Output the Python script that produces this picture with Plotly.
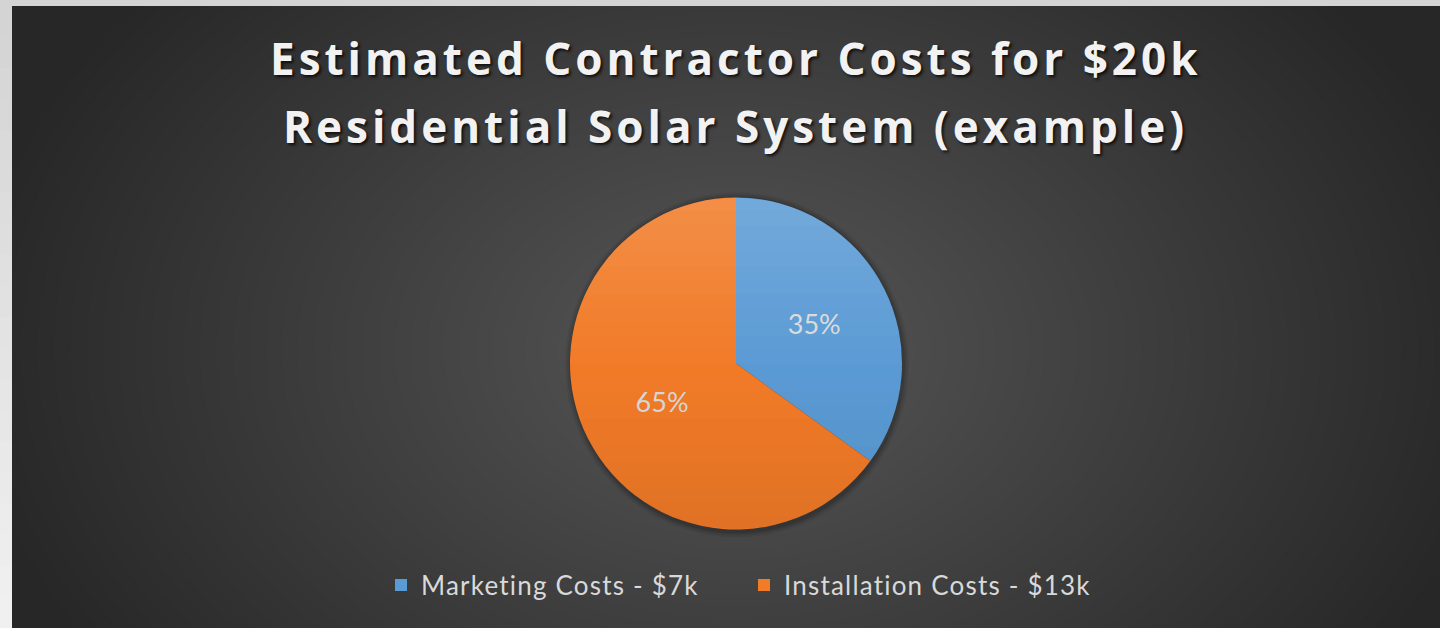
import numpy as np
import plotly.graph_objects as go

# ---- data ----
categories = ["Marketing Costs - $7k", "Installation Costs - $13k"]
values = [7, 13]
colors = ["#5b9bd5", "#f27b28"]
title_lines = ["Estimated Contractor Costs for $20k", "Residential Solar System (example)"]

W, H = 1440, 628
def X(px): return px / W
def Y(py): return 1 - py / H

# pie geometry (pixels)
CX, CY, R = 736, 363.5, 166

shapes = []
# panel base
shapes.append(dict(type="rect", xref="paper", yref="paper", x0=X(12), x1=X(1440), y0=Y(628), y1=Y(6),
                   fillcolor="#272727", line_width=0, layer="below"))
# radial gradient via concentric ellipses
gcx, gcy, rx, ry = 736, 350, 780, 560
N = 48
for i in range(N):
    d = 1 - i / N
    c = int(round(0x57 - (0x57 - 0x27) * d))
    shapes.append(dict(type="circle", xref="paper", yref="paper",
                       x0=X(gcx - rx * d), x1=X(gcx + rx * d), y0=Y(gcy + ry * d), y1=Y(gcy - ry * d),
                       fillcolor=f"rgb({c},{c},{c})", line_width=0, layer="below"))
# light outer frame (drawn over gradient)
shapes.append(dict(type="rect", xref="paper", yref="paper", x0=0, x1=1, y0=Y(6), y1=1,
                   fillcolor="#d4d4d4", line_width=0, layer="below"))
nb = 20
for i in range(nb):
    y0p = 6 + (H - 6) * i / nb
    c = int(round(0xd4 + (0xf0 - 0xd4) * (i / (nb - 1))))
    shapes.append(dict(type="rect", xref="paper", yref="paper", x0=0, x1=X(12), y0=0, y1=Y(y0p),
                       fillcolor=f"rgb({c},{c},{c})", line_width=0, layer="below"))
# pie soft shadow
for k, a in [(6, 0.06), (4, 0.08), (2, 0.12)]:
    shapes.append(dict(type="circle", xref="paper", yref="paper",
                       x0=X(CX - R - k + 1), x1=X(CX + R + k + 1), y0=Y(CY + R + k + 2), y1=Y(CY - R - k + 1),
                       fillcolor=f"rgba(0,0,0,{a})", line_width=0, layer="below"))
# vertical shading overlay on the pie (light top, dark bottom)
NB = 24
for i in range(NB):
    y1p = CY - R + 2 * R * i / NB
    y2p = CY - R + 2 * R * (i + 1) / NB
    t = (i + 0.5) / NB
    ys = np.linspace(y1p, y2p, 6)
    xs = np.sqrt(np.maximum(R ** 2 - (ys - CY) ** 2, 0))
    pts = [(CX + x, y) for x, y in zip(xs, ys)] + [(CX - x, y) for x, y in zip(xs[::-1], ys[::-1])]
    path = "M" + " L".join(f"{X(px):.6f},{Y(py):.6f}" for px, py in pts) + " Z"
    if t < 0.5:
        col = f"rgba(255,255,255,{(0.5 - t) * 0.30:.4f})"
    else:
        col = f"rgba(0,0,0,{(t - 0.5) * 0.14:.4f})"
    shapes.append(dict(type="path", xref="paper", yref="paper", path=path,
                       fillcolor=col, line_width=0, layer="above"))

legend_labels = [f"<span style='letter-spacing:1.2px'>{c}</span>" for c in categories]

fig = go.Figure(go.Pie(
    labels=legend_labels, values=values, sort=False, direction="clockwise", rotation=0,
    marker=dict(colors=colors, line=dict(width=0)),
    texttemplate="%{percent:.0%}", textposition="inside", insidetextorientation="horizontal",
    textfont=dict(family="Lato", size=27, color="#dadada"),
    domain=dict(x=[X(CX - R), X(CX + R)], y=[Y(CY + R), Y(CY - R)]),
    hoverinfo="label+value+percent",
))

annotations = []
for line, yc in zip(title_lines, [58, 126]):
    annotations.append(dict(text=f"<b><span style='letter-spacing:4px'>{line}</span></b>",
                            xref="paper", yref="paper", x=X(735), y=Y(yc),
                            xanchor="center", yanchor="middle", showarrow=False,
                            font=dict(family="Open Sans", size=44, color="#f2f2f2",
                                      shadow="2px 2px 3px rgba(0,0,0,0.75)")))

fig.update_layout(
    width=W, height=H, margin=dict(l=0, r=0, t=0, b=0),
    paper_bgcolor="#d4d4d4", plot_bgcolor="rgba(0,0,0,0)",
    shapes=shapes, annotations=annotations,
    showlegend=True,
    legend=dict(orientation="h", x=X(381), xanchor="left", y=Y(585), yanchor="middle",
                entrywidth=318, entrywidthmode="pixels",
                font=dict(family="Lato", size=26, color="#d9d9d9"),
                bgcolor="rgba(0,0,0,0)", traceorder="normal"),
)
fig.write_html("out.html", config={"displayModeBar": False},
               post_script="document.body.style.margin='0';document.body.style.overflow='hidden';")
